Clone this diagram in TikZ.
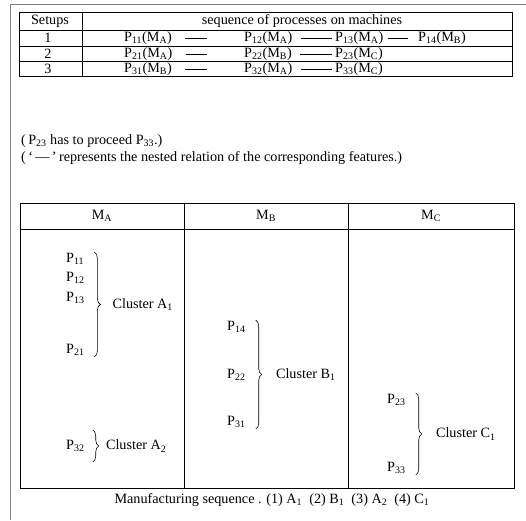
\documentclass[tikz,border=0pt]{standalone}
\usepackage{fontspec}
\setmainfont{Liberation Serif}
\usetikzlibrary{decorations.pathreplacing}
\newcommand{\proc}[1]{P\textsubscript{#1}}
\newcommand{\mach}[1]{M\textsubscript{#1}}
\begin{document}
\begin{tikzpicture}[x=1pt,y=-1pt,font=\fontsize{14.2}{16}\selectfont,
  every node/.style={inner sep=1pt},
  pcell/.style={anchor=west},
  nest/.style={line width=0.5pt},
  tbl/.style={line width=0.9pt},
  rule/.style={line width=0.5pt},
  clbrace/.style={decorate,decoration={brace,amplitude=6pt},line width=0.6pt},
  clabel/.style={midway,anchor=west}]
  \useasboundingbox (0,0) rectangle (526,520);
  % page frame
  \draw[rule,gray] (10,520) -- (10,4) -- (526,4);
  % setups table
  \draw[tbl] (19,12) rectangle (512,76);
  \draw[rule] (82,12) -- (82,76);
  \draw[rule] (19,30) -- (512,30);
  \draw[rule] (19,46) -- (512,46);
  \draw[rule] (19,61) -- (512,61);
  \node (setups) at (50,21) {Setups};
  \node (seqhead) at (302,21) {sequence of processes on machines};
  \node (s1) at (48,38) {1};
  \node (s2) at (48,54) {2};
  \node (s3) at (48,69) {3};
  \node[pcell] (p11) at (123,38) {\proc{11}(\mach{A})};
  \node[pcell] (p12) at (243,38) {\proc{12}(\mach{A})};
  \node[pcell] (p13) at (334,38) {\proc{13}(\mach{A})};
  \node[pcell] (p14) at (417,38) {\proc{14}(\mach{B})};
  \node[pcell] (p21) at (123,54) {\proc{21}(\mach{A})};
  \node[pcell] (p22) at (243,54) {\proc{22}(\mach{B})};
  \node[pcell] (p23) at (334,54) {\proc{23}(\mach{C})};
  \node[pcell] (p31) at (123,69) {\proc{31}(\mach{B})};
  \node[pcell] (p32) at (243,69) {\proc{32}(\mach{A})};
  \node[pcell] (p33) at (334,69) {\proc{33}(\mach{C})};
  % nested relations
  \draw[nest,shorten <=12pt,shorten >=36pt] (p11) -- (p12);
  \draw[nest,shorten <=7pt,shorten >=2pt] (p12) -- (p13);
  \draw[nest,shorten <=3pt,shorten >=9pt] (p13) -- (p14);
  \draw[nest,shorten <=12pt,shorten >=36pt] (p21) -- (p22);
  \draw[nest,shorten <=7pt,shorten >=2pt] (p22) -- (p23);
  \draw[nest,shorten <=12pt,shorten >=36pt] (p31) -- (p32);
  \draw[nest,shorten <=7pt,shorten >=2pt] (p32) -- (p33);
  % notes
  \node[anchor=west] (note1) at (20,141) {(\,\proc{23} has to proceed \proc{33}.)};
  \node[anchor=west] (note2) at (20,158) {(\,`\,---\,'\,represents the nested relation of the corresponding features.)};
  % machines table
  \draw[tbl] (20,203) rectangle (514,488);
  \draw[rule] (20,229) -- (514,229);
  \draw[rule] (184,203) -- (184,488);
  \draw[rule] (348,203) -- (348,488);
  \node (ma) at (102,216) {\mach{A}};
  \node (mb) at (266,216) {\mach{B}};
  \node (mc) at (431,216) {\mach{C}};
  \node[pcell] (a11) at (65,259) {\proc{11}};
  \node[pcell] (a12) at (65,278) {\proc{12}};
  \node[pcell] (a13) at (65,298) {\proc{13}};
  \node[pcell] (a21) at (65,350) {\proc{21}};
  \node[pcell] (a32) at (65,446) {\proc{32}};
  \node[pcell] (b14) at (226,327) {\proc{14}};
  \node[pcell] (b22) at (226,375) {\proc{22}};
  \node[pcell] (b31) at (226,422) {\proc{31}};
  \node[pcell] (c23) at (386,400) {\proc{23}};
  \node[pcell] (c33) at (386,468) {\proc{33}};
  % clusters
  \coordinate (bA1t) at ([xshift=9pt]a11.north east);
  \coordinate (bA1b) at (bA1t |- a21.south);
  \draw[clbrace] (bA1t) -- (bA1b) node[clabel,xshift=17pt] (cA1) {Cluster A\textsubscript{1}};
  \coordinate (bA2t) at ([xshift=7pt,yshift=9pt]a32.north east);
  \coordinate (bA2b) at ([xshift=7pt,yshift=-9pt]a32.south east);
  \draw[clbrace] (bA2t) -- (bA2b) node[clabel,xshift=12pt] (cA2) {Cluster A\textsubscript{2}};
  \coordinate (bB1t) at ([xshift=9pt]b14.north east);
  \coordinate (bB1b) at (bB1t |- b31.south);
  \draw[clbrace] (bB1t) -- (bB1b) node[clabel,xshift=19pt] (cB1) {Cluster B\textsubscript{1}};
  \coordinate (bC1t) at ([xshift=9pt]c23.north east);
  \coordinate (bC1b) at (bC1t |- c33.south);
  \draw[clbrace] (bC1t) -- (bC1b) node[clabel,xshift=19pt] (cC1) {Cluster C\textsubscript{1}};
  % sequence
  \node (mseq) at (272,500) {Manufacturing sequence . (1) A\textsubscript{1}\ \ (2) B\textsubscript{1}\ \ (3) A\textsubscript{2}\ \ (4) C\textsubscript{1}};
\end{tikzpicture}
\end{document}
